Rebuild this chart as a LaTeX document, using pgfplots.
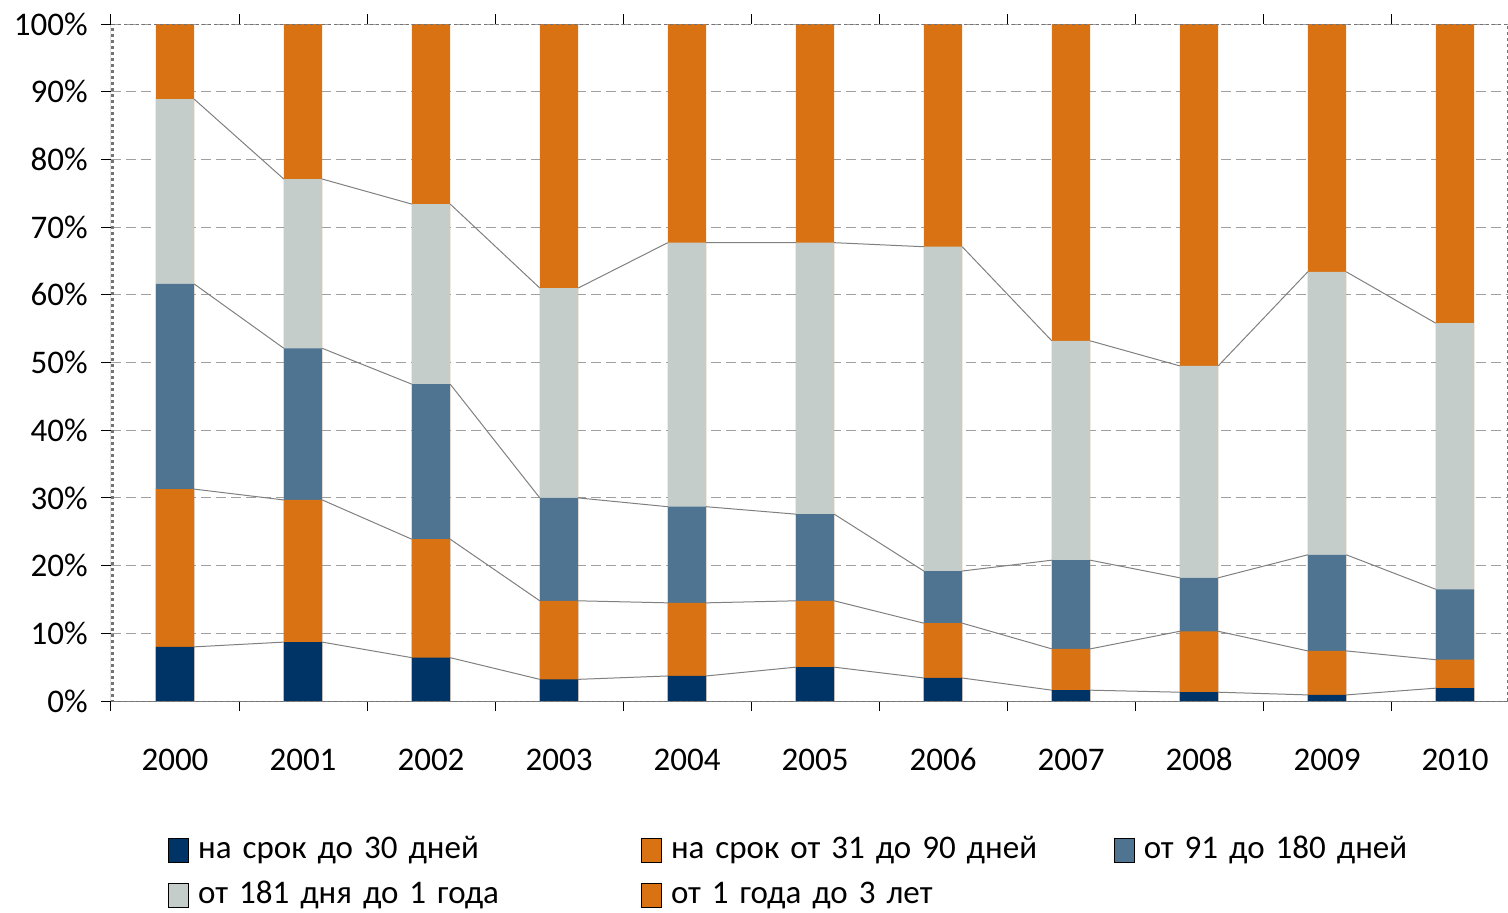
\documentclass[border=0pt]{standalone}
\usepackage{fontspec}
\setmainfont{Carlito}
\usepackage{pgfplots}
\pgfplotsset{compat=1.18}
\usetikzlibrary{calc}

\definecolor{navy}{HTML}{003366}
\definecolor{orng}{HTML}{D97213}
\definecolor{steel}{HTML}{4F7491}
\definecolor{lgray}{HTML}{C5CDCB}

\begin{document}
\fontsize{16.5}{20}\selectfont
\begin{tikzpicture}
\begin{axis}[
  name=ax,
  scale only axis, width=698.5pt, height=338.5pt,
  xmin=-0.5, xmax=10.414, ymin=0, ymax=100,
  axis line style={draw=none},
  /pgf/number format/assume math mode=true,
  xtick={0,...,10},
  xticklabels={2000,2001,2002,2003,2004,2005,2006,2007,2008,2009,2010},
  major x tick style={draw=none},
  minor xtick={-0.5,0.5,...,9.5},
  ytick={0,10,...,100},
  yticklabel={\pgfmathprintnumber{\tick}\%},
  tick align=outside,
  major tick length=5pt, minor tick length=5pt,
  tick style={black, line width=0.5pt},
  xticklabel style={yshift=-12pt, text height=12pt, text depth=3pt},
  yticklabel style={xshift=-1pt},
  ymajorgrids,
  major y grid style={gray!75, line width=0.5pt, dash pattern=on 5pt off 2.5pt},
  legend columns=3,
  legend cell align=left,
  legend image code/.code={\fill[#1] (0pt,-6pt) rectangle (10pt,6pt); \path (14.5pt,0pt);},
  legend style={at={(axis description cs:0,0)}, anchor=north west,
    xshift=28.5pt, yshift=-66.5pt, draw=none, inner sep=0pt,
    row sep=6.5pt, column sep=0pt,
    font={\spaceskip=2.7pt plus 1pt\relax},
    nodes={inner sep=0pt, text height=12pt, text depth=4pt},
    /tikz/every even column/.append style={text width=221.5pt}},
]
% cumulative heights of each band
\addplot[ybar, bar width=0.3, bar shift=0pt, fill=orng, draw=none, forget plot] coordinates
  {(0,100)(1,100)(2,100)(3,100)(4,100)(5,100)(6,100)(7,100)(8,100)(9,100)(10,100)};
\addplot[ybar, bar width=0.3, bar shift=0pt, fill=lgray, draw=none, forget plot] coordinates
  {(0,88.9)(1,77.1)(2,73.4)(3,61.0)(4,67.7)(5,67.7)(6,67.1)(7,53.2)(8,49.5)(9,63.4)(10,55.8)};
\addplot[ybar, bar width=0.3, bar shift=0pt, fill=steel, draw=none, forget plot] coordinates
  {(0,61.6)(1,52.1)(2,46.8)(3,30.0)(4,28.7)(5,27.6)(6,19.2)(7,20.8)(8,18.2)(9,21.6)(10,16.5)};
\addplot[ybar, bar width=0.3, bar shift=0pt, fill=orng, draw=none, forget plot] coordinates
  {(0,31.3)(1,29.7)(2,23.9)(3,14.8)(4,14.5)(5,14.8)(6,11.5)(7,7.7)(8,10.3)(9,7.4)(10,6.1)};
\addplot[ybar, bar width=0.3, bar shift=0pt, fill=navy, draw=none, forget plot] coordinates
  {(0,8.0)(1,8.7)(2,6.4)(3,3.2)(4,3.7)(5,5.0)(6,3.4)(7,1.6)(8,1.3)(9,0.9)(10,1.9)};

% connector lines between bar edges
\addplot[gray, line width=0.5pt, mark=none, unbounded coords=jump, forget plot] coordinates {
  (0.15,88.9)(0.85,77.1)(1,nan)(1.15,77.1)(1.85,73.4)(2,nan)(2.15,73.4)(2.85,61.0)(3,nan)
  (3.15,61.0)(3.85,67.7)(4,nan)(4.15,67.7)(4.85,67.7)(5,nan)(5.15,67.7)(5.85,67.1)(6,nan)
  (6.15,67.1)(6.85,53.2)(7,nan)(7.15,53.2)(7.85,49.5)(8,nan)(8.15,49.5)(8.85,63.4)(9,nan)
  (9.15,63.4)(9.85,55.8)};
\addplot[gray, line width=0.5pt, mark=none, unbounded coords=jump, forget plot] coordinates {
  (0.15,61.6)(0.85,52.1)(1,nan)(1.15,52.1)(1.85,46.8)(2,nan)(2.15,46.8)(2.85,30.0)(3,nan)
  (3.15,30.0)(3.85,28.7)(4,nan)(4.15,28.7)(4.85,27.6)(5,nan)(5.15,27.6)(5.85,19.2)(6,nan)
  (6.15,19.2)(6.85,20.8)(7,nan)(7.15,20.8)(7.85,18.2)(8,nan)(8.15,18.2)(8.85,21.6)(9,nan)
  (9.15,21.6)(9.85,16.5)};
\addplot[gray, line width=0.5pt, mark=none, unbounded coords=jump, forget plot] coordinates {
  (0.15,31.3)(0.85,29.7)(1,nan)(1.15,29.7)(1.85,23.9)(2,nan)(2.15,23.9)(2.85,14.8)(3,nan)
  (3.15,14.8)(3.85,14.5)(4,nan)(4.15,14.5)(4.85,14.8)(5,nan)(5.15,14.8)(5.85,11.5)(6,nan)
  (6.15,11.5)(6.85,7.7)(7,nan)(7.15,7.7)(7.85,10.3)(8,nan)(8.15,10.3)(8.85,7.4)(9,nan)
  (9.15,7.4)(9.85,6.1)};
\addplot[gray, line width=0.5pt, mark=none, unbounded coords=jump, forget plot] coordinates {
  (0.15,8.0)(0.85,8.7)(1,nan)(1.15,8.7)(1.85,6.4)(2,nan)(2.15,6.4)(2.85,3.2)(3,nan)
  (3.15,3.2)(3.85,3.7)(4,nan)(4.15,3.7)(4.85,5.0)(5,nan)(5.15,5.0)(5.85,3.4)(6,nan)
  (6.15,3.4)(6.85,1.6)(7,nan)(7.15,1.6)(7.85,1.3)(8,nan)(8.15,1.3)(8.85,0.9)(9,nan)
  (9.15,0.9)(9.85,1.9)};

\addlegendimage{fill=navy}\addlegendentry{на срок до 30 дней}
\addlegendimage{fill=orng}\addlegendentry{на срок от 31 до 90 дней}
\addlegendimage{fill=steel}\addlegendentry{от 91 до 180 дней}
\addlegendimage{fill=lgray}\addlegendentry{от 181 дня до 1 года}
\addlegendimage{fill=orng}\addlegendentry{от 1 года до 3 лет}

% frame: solid axis lines and dotted plot-area border
\draw[black, line width=0.5pt] (rel axis cs:0,0) -- (rel axis cs:0,1);
\draw[gray, line width=0.5pt] (rel axis cs:0,0) -- (rel axis cs:1,0);
\draw[gray!90!black, line width=1.2pt, dash pattern=on 1.5pt off 1.5pt]
  ([xshift=0.8pt,yshift=-0.8pt]rel axis cs:0,0) rectangle (rel axis cs:1,1);
\end{axis}
\pgfresetboundingbox
\path[use as bounding box] ($(ax.south west)+(-55.5pt,-105.5pt)$) rectangle ($(ax.north east)+(0pt,12pt)$);
\end{tikzpicture}
\end{document}
